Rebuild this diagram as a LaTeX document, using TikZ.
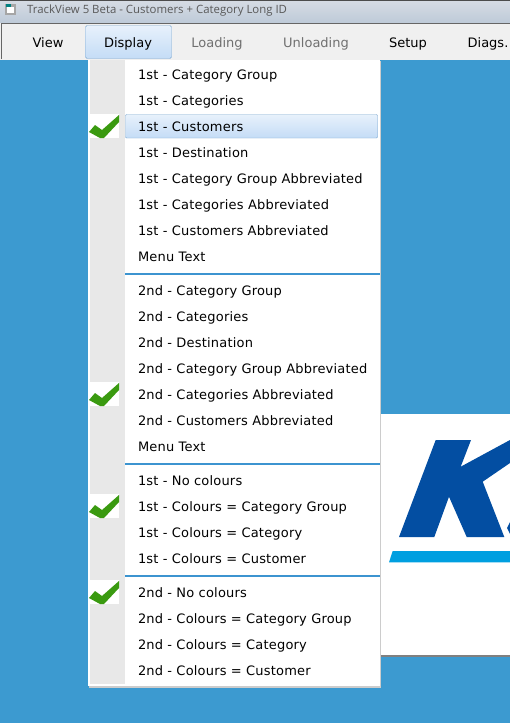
\documentclass[tikz,border=0pt]{standalone}
\usepackage{fontspec}
\setmainfont{DejaVu Sans}
\newfontfamily\titlefont{Open Sans}
\newfontfamily\menufont[LetterSpace=1.5]{DejaVu Sans}
\usetikzlibrary{positioning}
\definecolor{deskblue}{HTML}{3C9AD0}
\definecolor{sepblue}{HTML}{3C94D0}
\definecolor{gutter}{HTML}{E8E8E8}
\definecolor{barbg}{HTML}{F0F0F0}
\definecolor{titletop}{HTML}{D6DCE4}
\definecolor{titlebot}{HTML}{BECAD8}
\definecolor{hiline}{HTML}{7DA8D0}
\definecolor{higrad}{HTML}{C4DCF6}
\definecolor{tick}{HTML}{3A9A10}
\definecolor{logodark}{HTML}{034EA2}
\definecolor{logolight}{HTML}{009FE0}
\definecolor{greyed}{HTML}{707070}
\tikzset{
	menuitem/.style={font=\menufont\fontsize{13}{15}\selectfont, inner sep=0pt, outer sep=0pt, minimum height=26pt, text height=9.5pt, text depth=0.5pt, anchor=west},
	baritem/.style={font=\fontsize{13}{15}\selectfont, inner sep=0pt, outer sep=0pt, text height=10pt, text depth=0pt},
	tickmark/.pic={
		\fill[white] (-15,-13) rectangle (15,11);
		\fill[tick] (-15,5) -- (-9,-2) -- (-2,3) -- (15,-12) -- (15,-5) -- (0,11) -- (-4,11) -- cycle;
	}
}
\begin{document}
\begin{tikzpicture}[x=1pt, y=-1pt]
	\useasboundingbox (0,0) rectangle (510,723);
	% desktop, title bar, menu bar
	\fill[deskblue] (0,0) rectangle (510,723);
	\shade[top color=titletop, bottom color=titlebot] (0,0) rectangle (510,23);
	\fill[black!70] (0,0) rectangle (510,1);
	\fill[barbg] (0,23) rectangle (510,60);
	\draw[black!60, line width=1pt] (1.5,59) -- (1.5,23.5) -- (510,23.5);
	\shade[top color=white!60!higrad, bottom color=higrad, draw=hiline, rounded corners=1.5pt] (85.5,25.5) rectangle (171.5,58.5);
	\fill[gray!70] (5,4) rectangle (16,15);
	\fill[white] (7,7) rectangle (14,13);
	\fill[teal] (6,4) rectangle (11,7);
	\node[font=\titlefont\fontsize{11.4}{13}\selectfont, text=black!65, inner sep=0pt, anchor=west] (title) at (27,11) {TrackView 5 Beta - Customers + Category Long ID};
	\node[baritem] (view) at (48,42) {View};
	\node[baritem] (display) at (128,42) {Display};
	\node[baritem, text=greyed] (loading) at (217,42) {Loading};
	\node[baritem, text=greyed] (unloading) at (316,42) {Unloading};
	\node[baritem] (setup) at (408,42) {Setup};
	\node[baritem] (diags) at (488,42) {Diags.};
	% logo panel
	\fill[white] (381,414) rectangle (510,656);
	\fill[black!50] (381,655) rectangle (510,657);
	\fill[logodark] (399,537) -- (435.7,440) -- (471,440) -- (460.7,466.7) -- (510,440) -- (510,463) -- (482.7,481.7) -- (504.3,537) -- (466.7,537) -- (449,496.7) -- (434.3,537) -- cycle;
	\fill[logodark] (510,522) -- (507,528) -- (510,534) -- cycle;
	\fill[logolight] (392.7,551) -- (510,551) -- (510,562.3) -- (389,562.3) -- cycle;
	% menu
	\fill[black!20] (89,61) rectangle (381,688);
	\fill[white] (88,60) rectangle (380,686);
	\fill[gutter] (90,60) rectangle (124.5,684);
	\shade[top color=white!60!higrad, bottom color=higrad, draw=hiline, rounded corners=1pt] (125.5,114.5) rectangle (377.5,138);
	\node[menuitem] (a1) at (138,75) {1st - Category Group};
	\node[menuitem, below right=0pt and 0pt of a1.south west] (a2) {1st - Categories};
	\node[menuitem, below right=0pt and 0pt of a2.south west] (a3) {1st - Customers};
	\node[menuitem, below right=0pt and 0pt of a3.south west] (a4) {1st - Destination};
	\node[menuitem, below right=0pt and 0pt of a4.south west] (a5) {1st - Category Group Abbreviated};
	\node[menuitem, below right=0pt and 0pt of a5.south west] (a6) {1st - Categories Abbreviated};
	\node[menuitem, below right=0pt and 0pt of a6.south west] (a7) {1st - Customers Abbreviated};
	\node[menuitem, below right=0pt and 0pt of a7.south west] (a8) {Menu Text};
	\node[menuitem, below right=8pt and 0pt of a8.south west] (b1) {2nd - Category Group};
	\node[menuitem, below right=0pt and 0pt of b1.south west] (b2) {2nd - Categories};
	\node[menuitem, below right=0pt and 0pt of b2.south west] (b3) {2nd - Destination};
	\node[menuitem, below right=0pt and 0pt of b3.south west] (b4) {2nd - Category Group Abbreviated};
	\node[menuitem, below right=0pt and 0pt of b4.south west] (b5) {2nd - Categories Abbreviated};
	\node[menuitem, below right=0pt and 0pt of b5.south west] (b6) {2nd - Customers Abbreviated};
	\node[menuitem, below right=0pt and 0pt of b6.south west] (b7) {Menu Text};
	\node[menuitem, below right=8pt and 0pt of b7.south west] (c1) {1st - No colours};
	\node[menuitem, below right=0pt and 0pt of c1.south west] (c2) {1st - Colours = Category Group};
	\node[menuitem, below right=0pt and 0pt of c2.south west] (c3) {1st - Colours = Category};
	\node[menuitem, below right=0pt and 0pt of c3.south west] (c4) {1st - Colours = Customer};
	\node[menuitem, below right=8pt and 0pt of c4.south west] (d1) {2nd - No colours};
	\node[menuitem, below right=0pt and 0pt of d1.south west] (d2) {2nd - Colours = Category Group};
	\node[menuitem, below right=0pt and 0pt of d2.south west] (d3) {2nd - Colours = Category};
	\node[menuitem, below right=0pt and 0pt of d3.south west] (d4) {2nd - Colours = Customer};
	% separators
	\fill[sepblue] (125,273) rectangle (380,275);
	\fill[sepblue] (125,463) rectangle (380,465);
	\fill[sepblue] (125,575) rectangle (380,577);
	% ticks
	\pic at (104,127) {tickmark};
	\pic at (104,395) {tickmark};
	\pic at (104,507) {tickmark};
	\pic at (104,593) {tickmark};
\end{tikzpicture}
\end{document}
